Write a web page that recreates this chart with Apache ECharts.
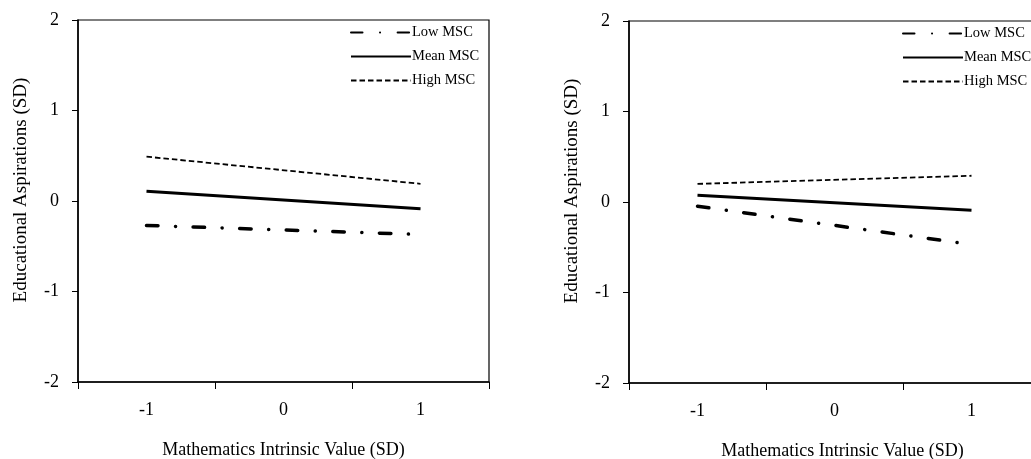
<!DOCTYPE html>
<html>
<head>
<meta charset="utf-8">
<script src="https://cdn.jsdelivr.net/npm/echarts@6/dist/echarts.min.js"></script>
<style>
html,body{margin:0;padding:0;background:#fff;}
#c{width:1031px;height:459px;}
</style>
</head>
<body>
<div id="c"></div>
<script>
// ---- data ----
var categories = ['-1', '0', '1'];
var yTicks = [-2, -1, 0, 1, 2];
var seriesNames = ['Low MSC', 'Mean MSC', 'High MSC'];
// left panel (middle value not drawn: straight simple-slope lines)
var leftLow  = [-0.27, null, -0.37];
var leftMean = [0.107, null, -0.085];
var leftHigh = [0.49, null, 0.19];
// right panel
var rightLow  = [-0.047, null, -0.47];
var rightMean = [0.075, null, -0.092];
var rightHigh = [0.20, null, 0.29];
var xTitle = 'Mathematics Intrinsic Value (SD)';
var yTitle = 'Educational Aspirations (SD)';

var FONT = 'Liberation Serif';
var styles = {
  'Low MSC':  {color:'#000', width:3.5, type:[11.5, 17.5, 0.1, 17.5], cap:'round'},
  'Mean MSC': {color:'#000', width:3, type:'solid', cap:'butt'},
  'High MSC': {color:'#000', width:1.8, type:[5.5, 3], cap:'butt'}
};

function makeX(gi, padLeft){
  return {
    type:'category', gridIndex:gi, data:categories, boundaryGap:true,
    axisLine:{show:true, onZero:false, lineStyle:{color:'#000', width:1.5}},
    axisTick:{show:true, inside:false, length:7, alignWithLabel:false, lineStyle:{color:'#000', width:1}},
    axisLabel:{color:'#000', fontFamily:FONT, fontSize:18, margin:19},
    splitLine:{show:false},
    name:xTitle, nameLocation:'middle', nameGap:59,
    nameTextStyle:{color:'#000', fontFamily:FONT, fontSize:18, padding:[0,0,0,padLeft]}
  };
}
function makeY(gi){
  return {
    type:'value', gridIndex:gi, min:yTicks[0], max:yTicks[yTicks.length-1], interval:1,
    axisLine:{show:true, onZero:false, lineStyle:{color:'#000', width:1.5}},
    axisTick:{show:true, inside:false, length:6, lineStyle:{color:'#000', width:1}},
    axisLabel:{color:'#000', fontFamily:FONT, fontSize:18, margin:19},
    splitLine:{show:false},
    name:yTitle, nameLocation:'middle', nameGap:47, nameRotate:90,
    nameTextStyle:{color:'#000', fontFamily:FONT, fontSize:19, padding:[0,0,0,22]}
  };
}
function mk(name, data, gi){
  var s = styles[name];
  return {
    name:name, type:'line', xAxisIndex:gi, yAxisIndex:gi, data:data,
    connectNulls:true, symbol:'none', showSymbol:false, silent:true,
    lineStyle:{color:s.color, width:s.width, type:s.type, cap:s.cap},
    itemStyle:{color:s.color}
  };
}
function makeLegend(left, top){
  return {
    orient:'vertical', left:left, top:top, padding:0, itemWidth:60, itemHeight:14, itemGap:9,
    selectedMode:false, data:seriesNames,
    itemStyle:{opacity:0},
    textStyle:{color:'#000', fontFamily:FONT, fontSize:14.5, padding:[0,0,0,-4]}
  };
}

var chart = echarts.init(document.getElementById('c'), null, {renderer:'canvas'});
chart.setOption({
  animation:false,
  backgroundColor:'#fff',
  grid:[
    {left:78, top:20, width:411, height:362, show:true, borderColor:'#000', borderWidth:1.2, backgroundColor:'transparent', outerBoundsMode:'none', containLabel:false},
    {left:629, top:21, width:411, height:362, show:true, borderColor:'#000', borderWidth:1.2, backgroundColor:'transparent', outerBoundsMode:'none', containLabel:false}
  ],
  xAxis:[makeX(0, 0), makeX(1, 16)],
  yAxis:[makeY(0), makeY(1)],
  legend:[makeLegend(350, 25), makeLegend(902, 26)],
  series:[
    mk('Low MSC', leftLow, 0), mk('Mean MSC', leftMean, 0), mk('High MSC', leftHigh, 0),
    mk('Low MSC', rightLow, 1), mk('Mean MSC', rightMean, 1), mk('High MSC', rightHigh, 1)
  ]
});
</script>
</body>
</html>
